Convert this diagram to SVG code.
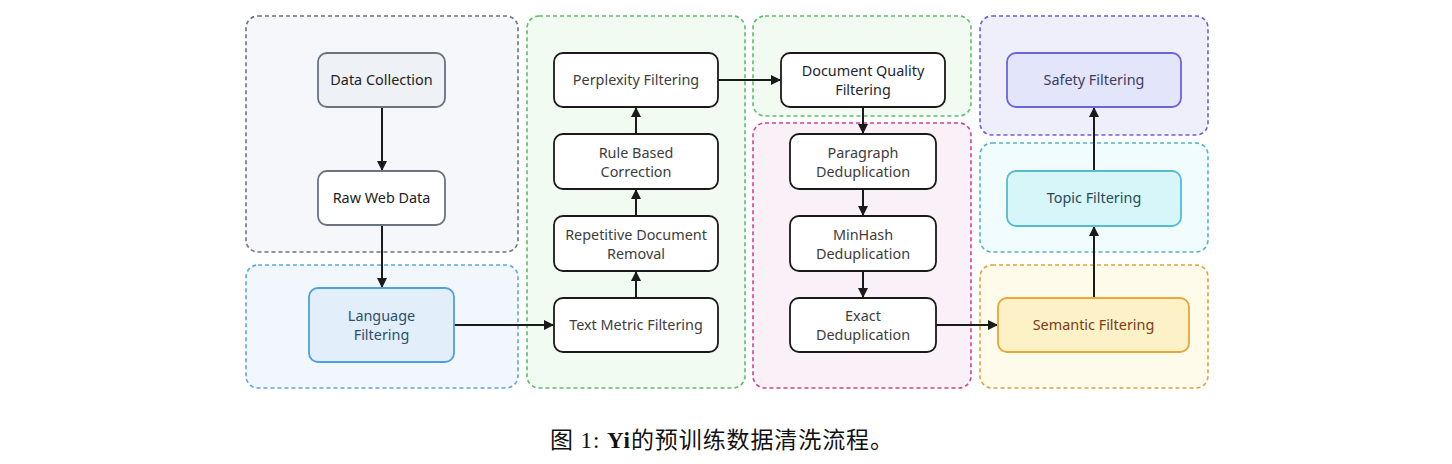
<svg xmlns="http://www.w3.org/2000/svg" width="1452" height="464" viewBox="0 0 1452 464">
<style>
.cl{stroke-width:1.6;stroke-dasharray:4 3}
.n{stroke-width:1.8}
.t{font-family:"Noto Sans","Open Sans",sans-serif;font-size:14.4px;text-anchor:middle;fill:#3d3d3d}
.e{fill:none;stroke:#1a1a1a;stroke-width:2}
.cap{font-family:"Liberation Serif","Noto Sans CJK SC",serif;font-size:23px;fill:#111}
</style>
<defs>
<marker id="ah" viewBox="0 0 10 10" refX="9" refY="5" markerWidth="10" markerHeight="10" markerUnits="userSpaceOnUse" orient="auto">
<path d="M0,0 L10,5 L0,10 z" fill="#1a1a1a"/>
</marker>
</defs>
<rect width="1452" height="464" fill="#fff"/>
<g id="clusters">
<rect class="cl" x="246" y="16" width="272" height="236" rx="12" fill="#f5f7fb" stroke="#6b7280"/>
<rect class="cl" x="246" y="265" width="272" height="123" rx="12" fill="#f1f7fd" stroke="#5aa9dd"/>
<rect class="cl" x="527" y="16" width="218" height="372" rx="12" fill="#f1fbf2" stroke="#5cbf6a"/>
<rect class="cl" x="753" y="16" width="218" height="100" rx="12" fill="#f1fbf2" stroke="#5cbf6a"/>
<rect class="cl" x="753" y="123" width="218" height="265" rx="12" fill="#f9f1f7" stroke="#d8408a"/>
<rect class="cl" x="980" y="16" width="228" height="119" rx="12" fill="#efeffc" stroke="#6b5ee0"/>
<rect class="cl" x="980" y="143" width="228" height="109" rx="12" fill="#f0fcfd" stroke="#4fb5c9"/>
<rect class="cl" x="980" y="265" width="228" height="123" rx="12" fill="#fefbeb" stroke="#e2a23a"/>
</g>
<g id="connectors">
<path class="e" d="M382,107 V170" marker-end="url(#ah)"/>
<path class="e" d="M382,225 V287" marker-end="url(#ah)"/>
<path class="e" d="M454,325 H553" marker-end="url(#ah)"/>
<path class="e" d="M636,298 V272" marker-end="url(#ah)"/>
<path class="e" d="M636,216 V190" marker-end="url(#ah)"/>
<path class="e" d="M636,134 V108" marker-end="url(#ah)"/>
<path class="e" d="M718,80 H780" marker-end="url(#ah)"/>
<path class="e" d="M863,107 V133" marker-end="url(#ah)"/>
<path class="e" d="M863,189 V215" marker-end="url(#ah)"/>
<path class="e" d="M863,271 V297" marker-end="url(#ah)"/>
<path class="e" d="M936,325 H997" marker-end="url(#ah)"/>
<path class="e" d="M1094,298 V227" marker-end="url(#ah)"/>
<path class="e" d="M1094,171 V108" marker-end="url(#ah)"/>
</g>
<g id="data-collection">
<rect class="n" x="318" y="53" width="127" height="54" rx="9" fill="#eef1f5" stroke="#6b7280"/>
<text class="t" x="381.5" y="85" style="fill:#222">Data Collection</text>
</g>
<g id="raw-web-data">
<rect class="n" x="318" y="171" width="127" height="54" rx="9" fill="#fff" stroke="#6b7280"/>
<text class="t" x="381.5" y="203" style="fill:#222">Raw Web Data</text>
</g>
<g id="language-filtering">
<rect class="n" x="309" y="288" width="145" height="74" rx="9" fill="#e2effb" stroke="#4ea1dc"/>
<text class="t" x="381.5" y="321" style="fill:#2d4d6d">Language</text>
<text class="t" x="381.5" y="340" style="fill:#2d4d6d">Filtering</text>
</g>
<g id="perplexity-filtering">
<rect class="n" x="554" y="53" width="164" height="54" rx="9" fill="#fff" stroke="#1a1a1a"/>
<text class="t" x="636" y="85">Perplexity Filtering</text>
</g>
<g id="rule-based-correction">
<rect class="n" x="554" y="134" width="164" height="55" rx="9" fill="#fff" stroke="#1a1a1a"/>
<text class="t" x="636" y="158">Rule Based</text>
<text class="t" x="636" y="177">Correction</text>
</g>
<g id="repetitive-document-removal">
<rect class="n" x="554" y="216" width="164" height="55" rx="9" fill="#fff" stroke="#1a1a1a"/>
<text class="t" x="636" y="240">Repetitive Document</text>
<text class="t" x="636" y="259">Removal</text>
</g>
<g id="text-metric-filtering">
<rect class="n" x="554" y="298" width="164" height="54" rx="9" fill="#fff" stroke="#1a1a1a"/>
<text class="t" x="636" y="330">Text Metric Filtering</text>
</g>
<g id="document-quality-filtering">
<rect class="n" x="781" y="53" width="164" height="54" rx="9" fill="#fff" stroke="#1a1a1a"/>
<text class="t" x="863" y="76" style="fill:#1f2430">Document Quality</text>
<text class="t" x="863" y="95" style="fill:#1f2430">Filtering</text>
</g>
<g id="paragraph-deduplication">
<rect class="n" x="790" y="134" width="146" height="55" rx="9" fill="#fff" stroke="#1a1a1a"/>
<text class="t" x="863" y="158">Paragraph</text>
<text class="t" x="863" y="177">Deduplication</text>
</g>
<g id="minhash-deduplication">
<rect class="n" x="790" y="216" width="146" height="55" rx="9" fill="#fff" stroke="#1a1a1a"/>
<text class="t" x="863" y="240">MinHash</text>
<text class="t" x="863" y="259">Deduplication</text>
</g>
<g id="exact-deduplication">
<rect class="n" x="790" y="298" width="146" height="54" rx="9" fill="#fff" stroke="#1a1a1a"/>
<text class="t" x="863" y="321">Exact</text>
<text class="t" x="863" y="340">Deduplication</text>
</g>
<g id="safety-filtering">
<rect class="n" x="1007" y="53" width="174" height="54" rx="9" fill="#e3e5fa" stroke="#6a63e0"/>
<text class="t" x="1094" y="85" style="fill:#3b3b66">Safety Filtering</text>
</g>
<g id="topic-filtering">
<rect class="n" x="1007" y="171" width="174" height="55" rx="9" fill="#d6f6fa" stroke="#55bccf"/>
<text class="t" x="1094" y="203" style="fill:#2a4a55">Topic Filtering</text>
</g>
<g id="semantic-filtering">
<rect class="n" x="998" y="298" width="191" height="54" rx="9" fill="#fdf1c8" stroke="#eaa63a"/>
<text class="t" x="1093.5" y="330" style="fill:#7a3b12">Semantic Filtering</text>
</g>
<text class="cap" x="550" y="448" textLength="343" lengthAdjust="spacing">图 1: <tspan font-weight="bold">Yi</tspan>的预训练数据清洗流程。</text>
</svg>
